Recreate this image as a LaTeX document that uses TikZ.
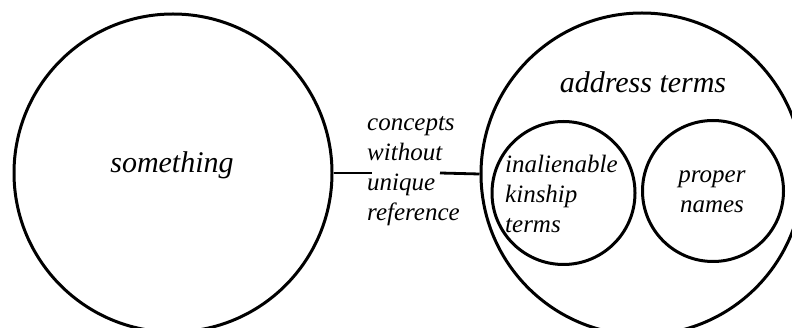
\documentclass[tikz,border=0pt]{standalone}
\usepackage{fontspec}
\setmainfont{Liberation Serif}
\begin{document}
\begin{tikzpicture}[x=1pt,y=-1pt,
  ring/.style={draw, circle, line width=3pt, inner sep=0pt},
  bigtext/.style={font=\fontsize{30}{36}\selectfont\itshape, inner sep=0pt},
  smalltext/.style={font=\fontsize{25}{30}\selectfont\itshape, inner sep=0pt},
  link/.style={line width=2.8pt}]
\useasboundingbox (0,0) rectangle (792,328);
\node[ring, minimum size=318pt] (left) at (173,173) {};
\node[ring, minimum size=322pt] (right) at (642,174) {};
\node[ring, minimum size=143pt] (kin) at (563.5,193) {};
\node[ring, minimum size=141pt] (prop) at (713,191) {};
\node[bigtext] (something) at (172,165) {something};
\node[bigtext] (address) at (643,82) {address terms};
\node[smalltext, align=left, anchor=west] (mid) at (367,171) {concepts\\without\\unique\\reference};
\node[smalltext, align=left, anchor=west] (kintext) at (505,194) {inalienable\\kinship\\terms};
\node[smalltext, align=center] (proptext) at (712,192) {proper\\names};
\coordinate (c1) at (372,173);
\coordinate (c2) at (440,173);
\draw[link] (left.east) -- (c1);
\draw[link] (c2) -- (right.west);
\end{tikzpicture}
\end{document}
